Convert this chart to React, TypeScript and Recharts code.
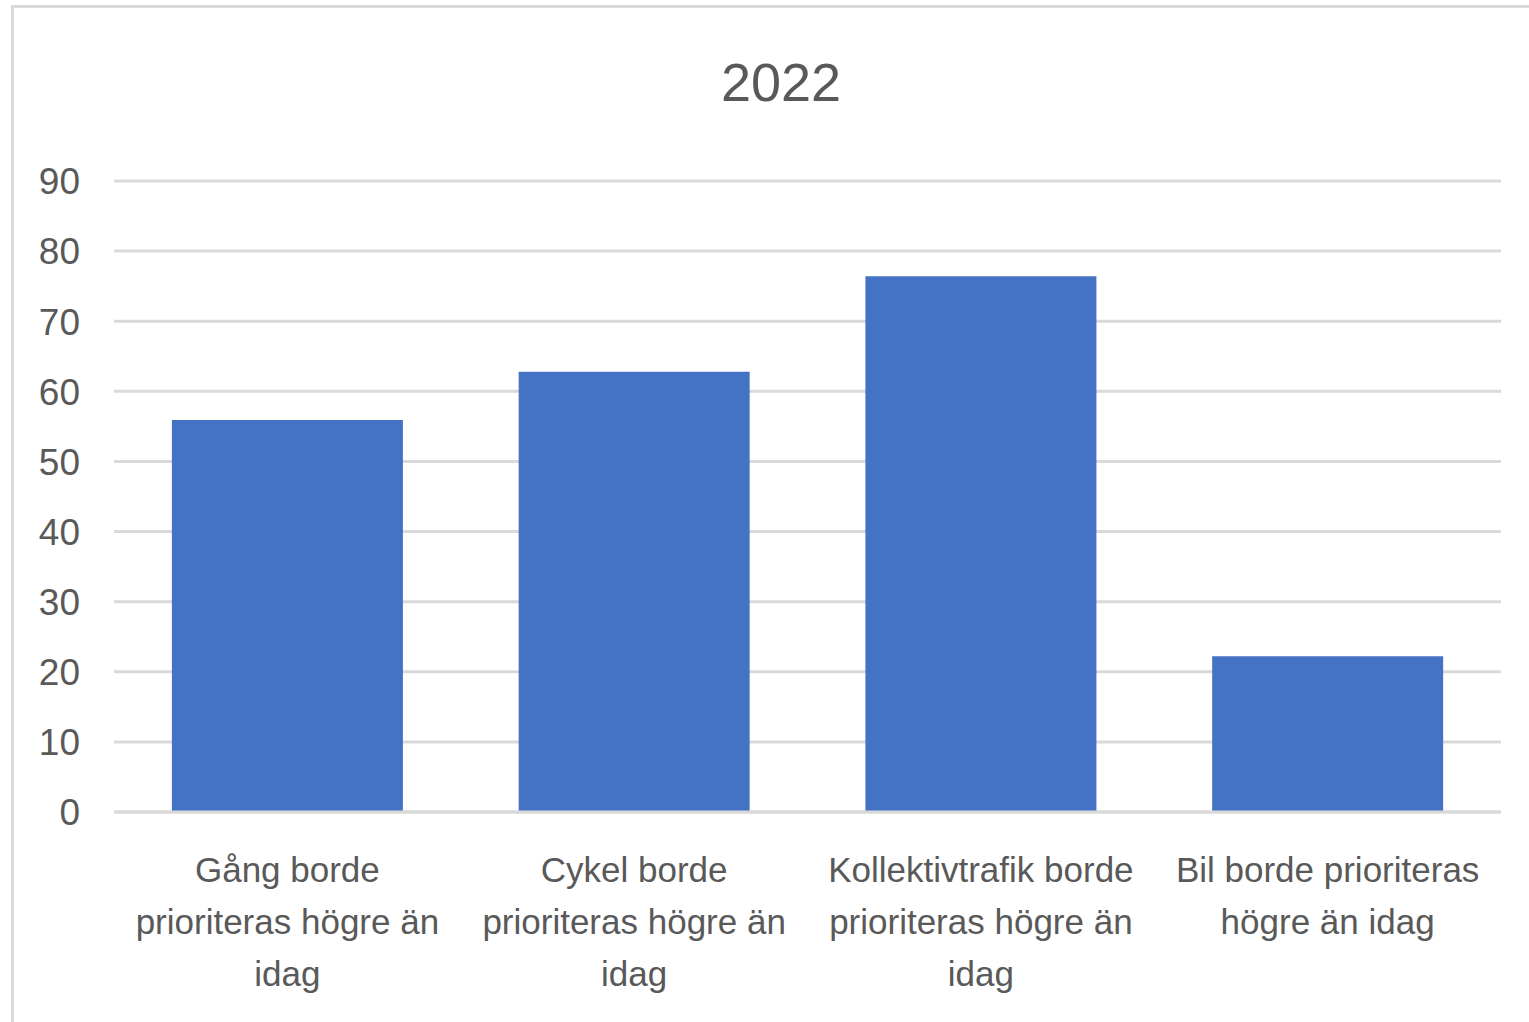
import React from "react";
import { BarChart, Bar, XAxis, YAxis, CartesianGrid } from "recharts";

const chartTitle = "2022";
const categories = [
  "Gång borde|prioriteras högre än|idag",
  "Cykel borde|prioriteras högre än|idag",
  "Kollektivtrafik borde|prioriteras högre än|idag",
  "Bil borde prioriteras|högre än idag",
];
const values = [55.9, 62.8, 76.4, 22.2];
const yTicks = [0, 10, 20, 30, 40, 50, 60, 70, 80, 90];

const data = categories.map((c, i) => ({ name: c, value: values[i] }));

const FONT = '"Liberation Sans", Arial, sans-serif';
const TEXT = "#595959";

const XTick = (props: any) => {
  const { x, y, payload } = props;
  const lines = String(payload.value).split("|");
  return (
    <g>
      {lines.map((l: string, i: number) => (
        <text
          key={i}
          x={x}
          y={y + 70 + i * 52}
          textAnchor="middle"
          fill={TEXT}
          fontSize={35}
          fontFamily={FONT}
        >
          {l}
        </text>
      ))}
    </g>
  );
};

const YTick = (props: any) => {
  const { x, y, payload } = props;
  return (
    <text
      x={x}
      y={y}
      dy="0.36em"
      textAnchor="end"
      fill={TEXT}
      fontSize={37}
      fontFamily={FONT}
    >
      {payload.value}
    </text>
  );
};

export default function App() {
  return (
    <div
      style={{
        position: "absolute",
        left: 0,
        top: 0,
        width: 1529,
        height: 1022,
        overflow: "hidden",
        background: "#fff",
      }}
    >
      <div
        style={{
          position: "absolute",
          left: 11,
          top: 5,
          width: 1600,
          height: 1100,
          borderLeft: "3px solid #d9d9d9",
          borderTop: "3px solid #d9d9d9",
          boxSizing: "border-box",
        }}
      />
      <div
        style={{
          position: "absolute",
          left: 0,
          top: 52,
          width: 1562,
          textAlign: "center",
          fontFamily: FONT,
          fontSize: 54,
          color: TEXT,
          lineHeight: "60px",
        }}
      >
        {chartTitle}
      </div>
      <div style={{ position: "absolute", left: 0, top: 0 }}>
        <BarChart
          width={1529}
          height={1022}
          data={data}
          margin={{ top: 181, right: 28, bottom: 0, left: 14 }}
          barCategoryGap="16.7%"
        >
          <CartesianGrid
            vertical={false}
            stroke="#d9d9d9"
            strokeWidth={3}
          />
          <XAxis
            dataKey="name"
            axisLine={{ stroke: "#d9d9d9", strokeWidth: 3 }}
            tickLine={false}
            tickSize={0}
            tickMargin={0}
            interval={0}
            tick={<XTick />}
            height={210}
          />
          <YAxis
            domain={[0, 90]}
            ticks={yTicks}
            axisLine={false}
            tickLine={false}
            tickSize={0}
            tickMargin={34}
            width={100}
            tick={<YTick />}
            interval={0}
          />
          <Bar dataKey="value" fill="#4472C4" isAnimationActive={false} />
        </BarChart>
      </div>
    </div>
  );
}
